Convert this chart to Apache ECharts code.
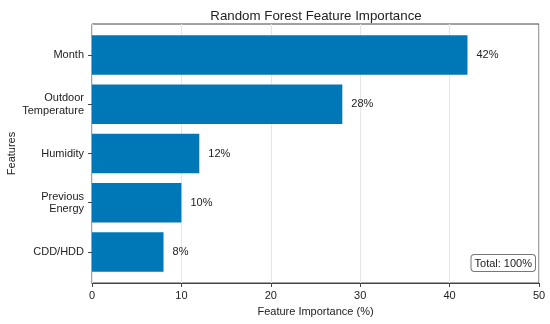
<!DOCTYPE html>
<html>
<head>
<meta charset="utf-8">
<script src="https://cdn.jsdelivr.net/npm/echarts@6/dist/echarts.min.js"></script>
<style>html,body{margin:0;padding:0;background:#fff}#c{width:550px;height:324px}</style>
</head>
<body>
<div id="c"></div>
<script>
const categories = ['Month', 'Outdoor\nTemperature', 'Humidity', 'Previous\nEnergy', 'CDD/HDD'];
const importance = [42, 28, 12, 10, 8];
const xTicks = [0, 10, 20, 30, 40, 50];
const totalLabel = 'Total: 100%';

const FONT = 'Liberation Sans, Arial, sans-serif';
const chart = echarts.init(document.getElementById('c'), null, {renderer: 'canvas'});
chart.setOption({
  animation: false,
  backgroundColor: '#fff',
  textStyle: {fontFamily: FONT},
  title: {
    text: 'Random Forest Feature Importance',
    left: 311, top: 5, textAlign: 'center',
    textStyle: {fontFamily: FONT, fontSize: 13.3, fontWeight: 'normal', color: '#222'}
  },
  grid: [
    {left: 92, right: 11, top: 24, bottom: 41, show: true, borderColor: '#444', borderWidth: 1,
     backgroundColor: 'transparent', containLabel: false, outerBoundsMode: 'none'},
    {left: 92, right: 11, top: 30.4, bottom: 47.4, containLabel: false, outerBoundsMode: 'none'}
  ],
  xAxis: [
    {
      gridIndex: 0, type: 'value', min: xTicks[0], max: xTicks[xTicks.length - 1], interval: 10,
      name: 'Feature Importance (%)', nameLocation: 'middle', nameGap: 23, nameMoveOverlap: false,
      nameTextStyle: {fontFamily: FONT, fontSize: 11, color: '#222'},
      axisLine: {show: true, lineStyle: {color: '#444', width: 1}},
      axisTick: {show: true, length: 4, lineStyle: {color: '#444'}},
      axisLabel: {fontFamily: FONT, fontSize: 11, color: '#222', margin: 7},
      splitLine: {show: true, lineStyle: {color: '#e6e6e6', width: 1}}
    },
    {
      gridIndex: 1, type: 'value', min: xTicks[0], max: xTicks[xTicks.length - 1], show: false,
      splitLine: {show: false}
    }
  ],
  yAxis: [
    {
      gridIndex: 0, type: 'value', show: false, splitLine: {show: false}
    },
    {
      gridIndex: 1, type: 'category', data: categories, inverse: true,
      name: 'Features', nameLocation: 'middle', nameGap: 75, nameRotate: 90, nameMoveOverlap: false,
      nameTextStyle: {fontFamily: FONT, fontSize: 11, color: '#222'},
      axisLine: {show: false},
      axisTick: {show: true, alignWithLabel: true, length: 4, inside: false, lineStyle: {color: '#444'}},
      axisLabel: {fontFamily: FONT, fontSize: 11, color: '#222', margin: 8, align: 'right', lineHeight: 12.5},
      splitLine: {show: false}
    }
  ],
  series: [{
    type: 'bar', xAxisIndex: 1, yAxisIndex: 1,
    data: importance,
    barCategoryGap: '20%',
    itemStyle: {color: '#0077b6'},
    label: {
      show: true, position: 'right', distance: 9,
      formatter: p => p.value + '%',
      fontFamily: FONT, fontSize: 11, color: '#222'
    }
  }],
  graphic: [{
    type: 'text', right: 14, top: 254, z: 100,
    style: {
      text: totalLabel, fontFamily: FONT, fontSize: 11, fill: '#222',
      backgroundColor: '#fff', borderColor: '#777', borderWidth: 1, borderRadius: 3,
      padding: [3, 3, 2, 3]
    }
  }]
});
</script>
</body>
</html>
